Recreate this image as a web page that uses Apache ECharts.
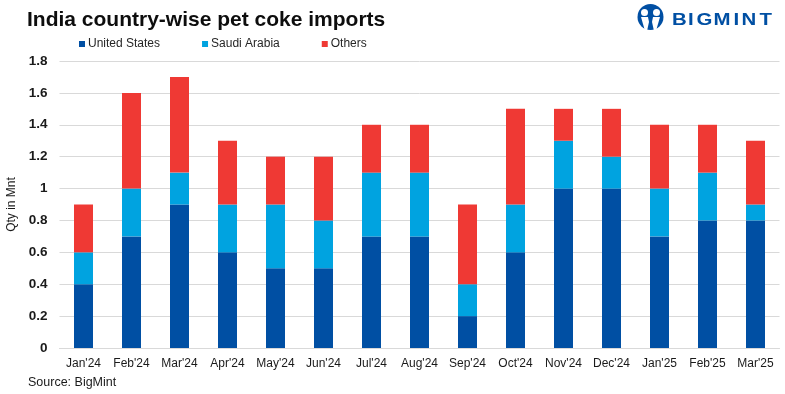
<!DOCTYPE html>
<html>
<head>
<meta charset="utf-8">
<style>
html, body { margin: 0; padding: 0; background: #fff; }
#chart { width: 785px; height: 394px; }
</style>
<script src="https://cdn.jsdelivr.net/npm/echarts@6/dist/echarts.min.js"></script>
</head>
<body>
<div id="chart"></div>
<script>
var months = ["Jan'24", "Feb'24", "Mar'24", "Apr'24", "May'24", "Jun'24", "Jul'24", "Aug'24", "Sep'24", "Oct'24", "Nov'24", "Dec'24", "Jan'25", "Feb'25", "Mar'25"];
var unitedStates = [0.4, 0.7, 0.9, 0.6, 0.5, 0.5, 0.7, 0.7, 0.2, 0.6, 1, 1, 0.7, 0.8, 0.8];
var saudiArabia = [0.2, 0.3, 0.2, 0.3, 0.4, 0.3, 0.4, 0.4, 0.2, 0.3, 0.3, 0.2, 0.3, 0.3, 0.1];
var others = [0.3, 0.6, 0.6, 0.4, 0.3, 0.4, 0.3, 0.3, 0.5, 0.6, 0.2, 0.3, 0.4, 0.3, 0.4];

var font = '"Liberation Sans", Arial, sans-serif';
var blue = '#004fa3';

function barSeries(name, data, color) {
	return {
		name: name,
		type: 'bar',
		stack: 'total',
		barWidth: 19,
		itemStyle: { color: color },
		data: data
	};
}

// logo, letters placed one by one because the wordmark is widely spaced
var logoLetters = [['B', 672], ['I', 688], ['G', 696.5], ['M', 713.5], ['I', 733.5], ['N', 741.5], ['T', 759.5]];
var logo = [
	{ type: 'circle', shape: { cx: 650.5, cy: 17, r: 13 }, style: { fill: blue } },
	{ type: 'polygon', shape: { points: [[641, 17], [648, 17], [649, 22], [647, 31], [645, 31]] }, style: { fill: '#fff' } },
	{ type: 'polygon', shape: { points: [[653, 17], [660, 17], [656, 31], [654, 31], [652, 22]] }, style: { fill: '#fff' } },
	{ type: 'circle', shape: { cx: 644.5, cy: 12.5, r: 3.5 }, style: { fill: '#fff' } },
	{ type: 'circle', shape: { cx: 656.5, cy: 12.5, r: 3.5 }, style: { fill: '#fff' } }
];
logoLetters.forEach(function (l) {
	logo.push({ type: 'text', x: l[1], y: 12, scaleX: 1.2, style: { text: l[0], font: 'bold 17px ' + font, fill: blue } });
});

var myChart = echarts.init(document.getElementById('chart'));
myChart.setOption({
	animation: false,
	textStyle: { fontFamily: font },
	title: {
		text: 'India country-wise pet coke imports',
		left: 27,
		top: 10,
		padding: 0,
		textStyle: { fontFamily: font, fontSize: 21, fontWeight: 'bold', color: '#0d0d0d' }
	},
	legend: {
		top: 38,
		left: 79,
		padding: 0,
		itemGap: 42,
		itemWidth: 6,
		itemHeight: 6,
		icon: 'rect',
		textStyle: { fontFamily: font, fontSize: 12, color: '#262626', padding: [0, 0, 0, -2] },
		data: ['United States', 'Saudi Arabia', 'Others']
	},
	grid: { left: 59.5, right: 5.5, top: 61, bottom: 46, outerBoundsMode: 'none' },
	xAxis: {
		type: 'category',
		data: months,
		axisLine: { lineStyle: { color: '#d9d9d9', width: 1 } },
		axisTick: { show: false },
		axisLabel: { fontFamily: font, fontSize: 12, color: '#1a1a1a', margin: 10, interval: 0 }
	},
	yAxis: {
		type: 'value',
		name: 'Qty in Mnt',
		nameLocation: 'middle',
		nameGap: 42,
		nameMoveOverlap: false,
		nameTextStyle: { fontFamily: font, fontSize: 12, color: '#1a1a1a' },
		min: 0,
		max: 1.8,
		interval: 0.2,
		axisLine: { show: false },
		axisTick: { show: false },
		splitLine: { lineStyle: { color: '#d9d9d9', width: 1 } },
		axisLabel: {
			fontFamily: font, fontSize: 13.5, fontWeight: 'bold', color: '#1a1a1a', margin: 12,
			formatter: function (v) { return String(Math.round(v * 10) / 10); }
		}
	},
	series: [
		barSeries('United States', unitedStates, blue),
		barSeries('Saudi Arabia', saudiArabia, '#00a3e0'),
		barSeries('Others', others, '#ef3934')
	],
	graphic: [
		{ type: 'text', left: 28, top: 376, style: { text: 'Source: BigMint', font: '12.5px ' + font, fill: '#1a1a1a' } }
	].concat(logo)
});
</script>
</body>
</html>
